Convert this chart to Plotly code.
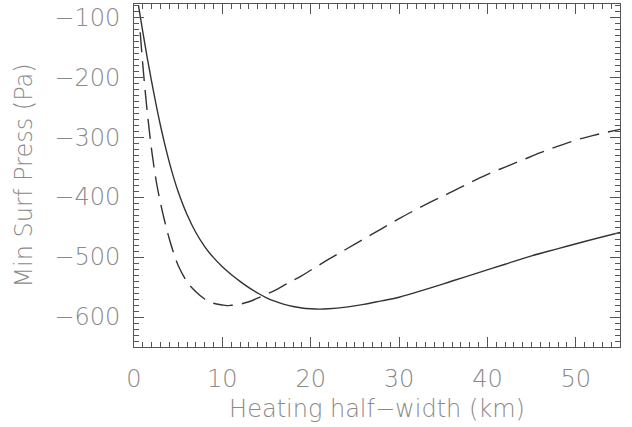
import plotly.graph_objects as go

# Solid curve
solid_x = [0.5, 1, 1.5, 2, 2.5, 3, 3.5, 4, 4.5, 5, 6, 7, 8, 9, 10, 11, 12, 13, 14, 15, 16, 17, 18, 19, 20, 21, 22, 24, 26, 28, 30, 33, 36, 39, 42, 45, 48, 51, 55]
solid_y = [-80, -125, -168, -208, -246, -281, -313, -342, -368, -391, -429, -459, -482.5, -501, -516, -529, -540.5, -551, -560, -568, -574, -579, -582.5, -585, -586.3, -586.8, -586.3, -583.5, -579, -573, -567, -554, -540, -526, -512, -498, -486, -474, -459]

# Dashed curve
dash_x = [0.7, 1, 1.5, 2, 2.5, 3, 3.5, 4, 4.5, 5, 6, 7, 8, 9, 10, 10.5, 11, 12, 13, 14, 15, 16, 17, 18, 19, 20, 22, 24, 26, 28, 30, 32, 34, 36, 38, 40, 42, 44, 46, 48, 50, 52, 55]
dash_y = [-125, -180, -258, -322, -372, -410, -442, -470, -494, -514, -541, -558, -570, -577, -580, -581, -580.5, -578.5, -574.5, -568.5, -562, -555, -547, -539, -531, -522, -504, -487, -470, -453, -436, -420, -405, -391, -376, -362, -350, -338, -326, -315, -305, -297, -287]

x_ticks = [0, 10, 20, 30, 40, 50]
y_ticks = [-600, -500, -400, -300, -200, -100]

txt = "#8a8a8a"
axc = "#555555"
font = dict(family="DejaVu Sans", size=24, color=txt, weight=200)

fig = go.Figure()
fig.add_trace(go.Scatter(x=solid_x, y=solid_y, mode="lines", line=dict(color="#333333", width=1.4, shape="spline"), showlegend=False))
fig.add_trace(go.Scatter(x=dash_x, y=dash_y, mode="lines", line=dict(color="#333333", width=1.4, dash="20px,9px", shape="spline"), showlegend=False))

common = dict(showgrid=False, zeroline=False, showline=True, linecolor=axc, linewidth=1,
              mirror="ticks", ticks="inside", ticklen=10, tickcolor=axc, tickwidth=1,
              tickfont=font, title_font=font)
fig.update_xaxes(range=[0, 55], tickvals=x_ticks, ticklabelstandoff=10,
                 minor=dict(dtick=1, ticks="inside", ticklen=5, tickcolor=axc),
                 title=dict(text="Heating half\u2212width (km)", standoff=8), **common)
fig.update_yaxes(range=[-650, -78], tickvals=y_ticks, ticklabelstandoff=8,
                 minor=dict(dtick=10, ticks="inside", ticklen=5, tickcolor=axc),
                 title=dict(text="Min Surf Press (Pa)", standoff=14), **common)

fig.update_layout(width=632, height=427, margin=dict(l=134, r=12, t=4, b=80),
                  paper_bgcolor="white", plot_bgcolor="white")
fig.write_html("out.html")
